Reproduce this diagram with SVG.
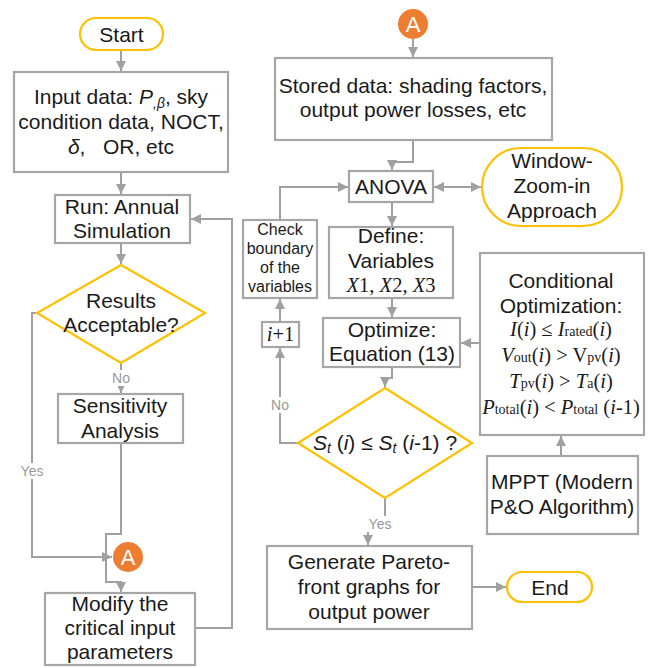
<svg xmlns="http://www.w3.org/2000/svg" width="651" height="668" viewBox="0 0 651 668">
<defs>
<marker id="ah" viewBox="0 0 10 10" refX="10" refY="5" markerWidth="10" markerHeight="10" markerUnits="userSpaceOnUse" orient="auto-start-reverse">
<path d="M0,0 L10,5 L0,10 z" fill="#A0A0A0"/>
</marker>
<style>
.box{fill:#fff;stroke:#A6A6A6;stroke-width:2.2}
.term{fill:#fff;stroke:#FFC000;stroke-width:2.2}
.dec{fill:#fff;stroke:#FFC000;stroke-width:2.2}
.con{fill:none;stroke:#A0A0A0;stroke-width:2}
.t{font-family:"Liberation Sans",Arial,sans-serif;font-size:21px;fill:#1a1a1a;text-anchor:middle}
.s{font-family:"Liberation Sans",Arial,sans-serif;font-size:16px;fill:#1a1a1a;text-anchor:middle}
.m{font-family:"Liberation Serif","Times New Roman",serif;font-size:20.5px;fill:#1a1a1a;text-anchor:middle}
.lbl{font-family:"Liberation Sans",Arial,sans-serif;font-size:14px;fill:#999;text-anchor:middle}
.circ{fill:#ED7D31}
.ct{font-family:"Liberation Sans",Arial,sans-serif;font-size:22px;fill:#fff;text-anchor:middle}
</style>
</defs>
<rect width="651" height="668" fill="#fff"/>
<g id="connectors">
<path class="con" d="M121,50 V71" marker-end="url(#ah)"/>
<path class="con" d="M121,172 V194" marker-end="url(#ah)"/>
<path class="con" d="M121,243 V264" marker-end="url(#ah)"/>
<path class="con" d="M121,363 V393" marker-end="url(#ah)"/>
<path class="con" d="M37,313 H32 V557 H112" marker-end="url(#ah)"/>
<path class="con" d="M121,443 V534 H106 V582 H121 V592" marker-end="url(#ah)"/>
<path class="con" d="M195,628 H232 V219 H191" marker-end="url(#ah)"/>
<path class="con" d="M413,39 V57" marker-end="url(#ah)"/>
<path class="con" d="M413,140 V162 H392 V170" marker-end="url(#ah)"/>
<path class="con" d="M434,187 H481" marker-start="url(#ah)" marker-end="url(#ah)"/>
<path class="con" d="M280,220 V187 H348" marker-end="url(#ah)"/>
<path class="con" d="M392,202 V226" marker-end="url(#ah)"/>
<path class="con" d="M392,298 V317" marker-end="url(#ah)"/>
<path class="con" d="M480,343 H461" marker-end="url(#ah)"/>
<path class="con" d="M392,367 V378 H385 V387" marker-end="url(#ah)"/>
<path class="con" d="M298,443 H280 V348" marker-end="url(#ah)"/>
<path class="con" d="M280,322 V299" marker-end="url(#ah)"/>
<path class="con" d="M385,498 V523 H368 V545" marker-end="url(#ah)"/>
<path class="con" d="M472,587 H506" marker-end="url(#ah)"/>
<path class="con" d="M561,456 V436" marker-end="url(#ah)"/>
<rect x="108" y="370" width="26" height="16" fill="#fff"/>
<text class="lbl" x="121" y="383">No</text>
<rect x="18" y="463" width="29" height="16" fill="#fff"/>
<text class="lbl" x="32" y="476">Yes</text>
<rect x="266" y="397" width="26" height="16" fill="#fff"/>
<text class="lbl" x="280" y="410">No</text>
<rect x="365" y="516" width="29" height="16" fill="#fff"/>
<text class="lbl" x="380" y="529">Yes</text>
</g>
<g id="start">
<rect class="term" x="80" y="18" width="83" height="32" rx="16"/>
<text class="t" x="121.5" y="41.5">Start</text>
</g>
<g id="input">
<rect class="box" x="14" y="72" width="214" height="100"/>
<text class="t" x="121" y="104">Input data: <tspan font-style="italic">P</tspan><tspan font-size="14" font-style="italic" dy="4">,β</tspan><tspan dy="-4">, sky</tspan></text>
<text class="t" x="121" y="129">condition data, NOCT,</text>
<text class="t" x="121" y="154" xml:space="preserve"><tspan font-style="italic">δ</tspan>,   OR, etc</text>
</g>
<g id="run">
<rect class="box" x="55" y="195" width="135" height="48"/>
<text class="t" x="122" y="214">Run: Annual</text>
<text class="t" x="122" y="238">Simulation</text>
</g>
<g id="results">
<polygon class="dec" points="121,265 205,313 121,363 37,313"/>
<text class="t" x="121" y="308">Results</text>
<text class="t" x="121" y="332">Acceptable?</text>
</g>
<g id="sensitivity">
<rect class="box" x="58" y="394" width="125" height="49"/>
<text class="t" x="120" y="413">Sensitivity</text>
<text class="t" x="120" y="438">Analysis</text>
</g>
<g id="a-left">
<circle class="circ" cx="128" cy="557" r="15"/>
<text class="ct" x="128" y="565">A</text>
</g>
<g id="modify">
<rect class="box" x="45" y="593" width="150" height="72"/>
<text class="t" x="120" y="611">Modify the</text>
<text class="t" x="120" y="635">critical input</text>
<text class="t" x="120" y="659">parameters</text>
</g>
<g id="a-top">
<circle class="circ" cx="413" cy="24" r="15"/>
<text class="ct" x="413" y="32">A</text>
</g>
<g id="stored">
<rect class="box" x="275" y="58" width="277" height="82"/>
<text class="t" x="413" y="93">Stored data: shading factors,</text>
<text class="t" x="413" y="117">output power losses, etc</text>
</g>
<g id="anova">
<rect class="box" x="349" y="171" width="84" height="31"/>
<text class="t" x="391" y="194">ANOVA</text>
</g>
<g id="window">
<rect class="term" x="482" y="148" width="140" height="78" rx="39"/>
<text class="t" x="552" y="168">Window-</text>
<text class="t" x="552" y="193">Zoom-in</text>
<text class="t" x="552" y="218">Approach</text>
</g>
<g id="check">
<rect class="box" x="243" y="220" width="74" height="78"/>
<text class="s" x="280" y="235">Check</text>
<text class="s" x="280" y="254">boundary</text>
<text class="s" x="280" y="273">of the</text>
<text class="s" x="280" y="292">variables</text>
</g>
<g id="define">
<rect class="box" x="329" y="227" width="124" height="71"/>
<text class="t" x="391" y="243">Define:</text>
<text class="t" x="391" y="268">Variables</text>
<text class="m" x="391" y="292"><tspan font-style="italic">X</tspan>1, <tspan font-style="italic">X</tspan>2, <tspan font-style="italic">X</tspan>3</text>
</g>
<g id="iplus">
<rect class="box" x="262" y="322" width="37" height="25"/>
<text class="m" x="280.5" y="341"><tspan font-style="italic">i</tspan>+1</text>
</g>
<g id="optimize">
<rect class="box" x="323" y="318" width="137" height="49"/>
<text class="t" x="392" y="337">Optimize:</text>
<text class="t" x="392" y="361">Equation (13)</text>
</g>
<g id="stcheck">
<polygon class="dec" points="385,388 472,443 385,498 298,443"/>
<text class="t" x="385" y="450"><tspan font-style="italic">S</tspan><tspan font-size="14" font-style="italic" dy="3">t</tspan><tspan dy="-3"> (</tspan><tspan font-style="italic">i</tspan>) ≤ <tspan font-style="italic">S</tspan><tspan font-size="14" font-style="italic" dy="3">t</tspan><tspan dy="-3"> (</tspan><tspan font-style="italic">i</tspan>-1) ?</text>
</g>
<g id="conditional">
<rect class="box" x="480" y="253" width="164" height="182"/>
<text class="t" x="561" y="288">Conditional</text>
<text class="t" x="561" y="313">Optimization:</text>
<text class="m" x="561" y="336"><tspan font-style="italic">I</tspan>(<tspan font-style="italic">i</tspan>) ≤ <tspan font-style="italic">I</tspan><tspan font-size="14">rated</tspan>(<tspan font-style="italic">i</tspan>)</text>
<text class="m" x="561" y="362"><tspan font-style="italic">V</tspan><tspan font-size="14">out</tspan>(<tspan font-style="italic">i</tspan>) &gt; V<tspan font-size="14">pv</tspan>(<tspan font-style="italic">i</tspan>)</text>
<text class="m" x="561" y="388"><tspan font-style="italic">T</tspan><tspan font-size="14">pv</tspan>(<tspan font-style="italic">i</tspan>) &gt; <tspan font-style="italic">T</tspan><tspan font-size="14">a</tspan>(<tspan font-style="italic">i</tspan>)</text>
<text class="m" x="561" y="414"><tspan font-style="italic">P</tspan><tspan font-size="14">total</tspan>(<tspan font-style="italic">i</tspan>) &lt; <tspan font-style="italic">P</tspan><tspan font-size="14">total</tspan> (<tspan font-style="italic">i</tspan>-1)</text>
</g>
<g id="mppt">
<rect class="box" x="487" y="456" width="151" height="78"/>
<text class="t" x="562" y="489">MPPT (Modern</text>
<text class="t" x="562" y="514">P&amp;O Algorithm)</text>
</g>
<g id="generate">
<rect class="box" x="267" y="546" width="205" height="83"/>
<text class="t" x="369" y="569">Generate Pareto-</text>
<text class="t" x="369" y="594">front graphs for</text>
<text class="t" x="369" y="619">output power</text>
</g>
<g id="end">
<rect class="term" x="507" y="572" width="85" height="30" rx="15"/>
<text class="t" x="550" y="594.5">End</text>
</g>
</svg>
